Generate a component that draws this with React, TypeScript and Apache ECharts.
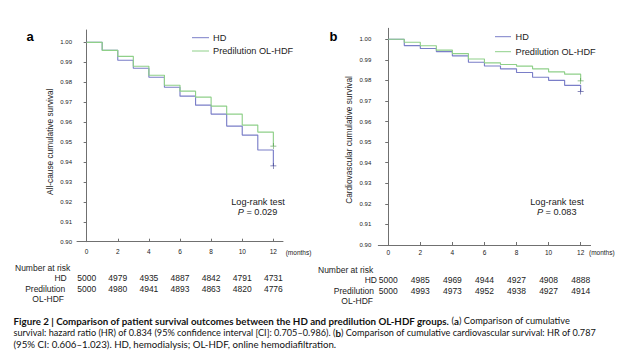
import React, { useEffect, useRef } from "react";
import * as echarts from "echarts";

// ---------- data ----------
const months = [0, 1, 2, 3, 4, 5, 6, 7, 8, 9, 10, 11, 12];
// all-cause survival (panel a)
const hdAllCause = [1.0, 0.996, 0.991, 0.987, 0.9825, 0.9775, 0.973, 0.9685, 0.964, 0.958, 0.9535, 0.946, 0.938];
const hdfAllCause = [1.0, 0.996, 0.993, 0.988, 0.9835, 0.9785, 0.9755, 0.9725, 0.968, 0.964, 0.9585, 0.955, 0.948];
// cardiovascular survival (panel b)
const hdCardio = [1.0, 0.9969, 0.9955, 0.994, 0.9919, 0.9888, 0.987, 0.9856, 0.9838, 0.9815, 0.98, 0.9776, 0.9746];
const hdfCardio = [1.0, 0.9985, 0.9968, 0.9947, 0.993, 0.9904, 0.9885, 0.9877, 0.9869, 0.9856, 0.9841, 0.983, 0.9797];

const yTicks = [0.9, 0.91, 0.92, 0.93, 0.94, 0.95, 0.96, 0.97, 0.98, 0.99, 1.0];
const xTicks = [0, 2, 4, 6, 8, 10, 12];

const riskMonths = [0, 2, 4, 6, 8, 10, 12];
const riskHdA = [5000, 4979, 4935, 4887, 4842, 4791, 4731];
const riskHdfA = [5000, 4980, 4941, 4893, 4863, 4820, 4776];
const riskHdB = [5000, 4985, 4969, 4944, 4927, 4908, 4888];
const riskHdfB = [5000, 4993, 4973, 4952, 4938, 4927, 4914];

const seriesNames = ["HD", "Predilution OL-HDF"];
const pValues = ["0.029", "0.083"];

// ---------- styles ----------
const HD_COLOR = "#7a7ec8";
const HDF_COLOR = "#8fd089";
const HD_MARK = "#3c3d8c";
const HDF_MARK = "#4f9a48";
const AXIS_COLOR = "#707070";
const TEXT = "#222";
const FONT = "Liberation Sans";
const CAP_FONT = "Lato";
const PLUS = "path://M0,4.4H10V5.6H0Z M4.4,0H5.6V10H4.4Z";

export default function App() {
  const ref = useRef<HTMLDivElement>(null);

  useEffect(() => {
    if (!ref.current) return;
    const chart = echarts.init(ref.current, null, { renderer: "svg" });

    const pairs = (vals: number[]) => vals.map((v, i) => [months[i], v]);

    const makeX = (gridIndex: number, margin: number) => ({
      type: "value",
      gridIndex,
      min: -0.62,
      max: 12.62,
      axisLine: { show: true, onZero: false, lineStyle: { color: AXIS_COLOR, width: 1 } },
      axisTick: { show: true, inside: true, length: 3, customValues: xTicks, lineStyle: { color: AXIS_COLOR } },
      axisLabel: { customValues: xTicks, fontSize: 6.5, color: TEXT, fontFamily: FONT, margin },
      splitLine: { show: false },
    });
    const makeY = (gridIndex: number, max: number, margin: number) => ({
      type: "value",
      gridIndex,
      min: 0.9,
      max,
      axisLine: { show: true, lineStyle: { color: AXIS_COLOR, width: 1 } },
      axisTick: { show: true, length: 3, customValues: yTicks, lineStyle: { color: AXIS_COLOR } },
      axisLabel: {
        customValues: yTicks,
        formatter: (v: number) => v.toFixed(2),
        fontSize: 6,
        color: TEXT,
        fontFamily: FONT,
        margin,
      },
      splitLine: { show: false },
    });

    const lineSeries = (name: string, vals: number[], color: string, idx: number) => ({
      type: "line",
      name,
      xAxisIndex: idx,
      yAxisIndex: idx,
      data: pairs(vals),
      step: "end",
      symbol: "none",
      lineStyle: { color, width: 1.15 },
      z: 3,
    });
    const censor = (name: string, vals: number[], color: string, idx: number) => ({
      type: "scatter",
      name,
      xAxisIndex: idx,
      yAxisIndex: idx,
      data: [[months[months.length - 1], vals[vals.length - 1]]],
      symbol: PLUS,
      symbolSize: 6,
      itemStyle: { color },
      z: 4,
    });

    chart.setOption({
      animation: false,
      grid: [
        { left: 77, top: 30, width: 206, height: 211.7 },
        { left: 378.3, top: 28.3, width: 212.3, height: 216.7 },
      ],
      xAxis: [makeX(0, 6), makeX(1, 3.5)],
      yAxis: [makeY(0, 1.0062, 5), makeY(1, 1.0053, 7)],
      series: [
        lineSeries(seriesNames[0], hdAllCause, HD_COLOR, 0),
        lineSeries(seriesNames[1], hdfAllCause, HDF_COLOR, 0),
        lineSeries(seriesNames[0], hdCardio, HD_COLOR, 1),
        lineSeries(seriesNames[1], hdfCardio, HDF_COLOR, 1),
        censor(seriesNames[0], hdAllCause, HD_MARK, 0),
        censor(seriesNames[1], hdfAllCause, HDF_MARK, 0),
        censor(seriesNames[0], hdCardio, HD_MARK, 1),
        censor(seriesNames[1], hdfCardio, HDF_MARK, 1),
      ],
    });

    const txt = (text: string, x: number, y: number, opts: any = {}) => ({
      type: "text",
      x,
      y,
      rotation: opts.rotation || 0,
      style: {
        text,
        fontSize: opts.fontSize || 8.5,
        fontFamily: opts.fontFamily || FONT,
        fontWeight: opts.fontWeight || "normal",
        fill: opts.fill || TEXT,
        align: opts.align || "left",
        verticalAlign: "middle",
        rich: opts.rich,
      },
      z: 10,
    });
    const seg = (x1: number, x2: number, y: number, color: string) => ({
      type: "line",
      shape: { x1, y1: y, x2, y2: y },
      style: { stroke: color, lineWidth: 1 },
      z: 10,
    });

    const g: any[] = [];
    // panel letters
    g.push(txt("a", 30, 36, { fontSize: 13, fontWeight: "bold", align: "center", fill: "#000" }));
    g.push(txt("b", 333.5, 36, { fontSize: 13, fontWeight: "bold", align: "center", fill: "#000" }));
    // legends
    g.push(seg(192, 209, 37.7, HD_COLOR), txt(seriesNames[0], 213, 38, { fontSize: 9.2 }));
    g.push(seg(192, 209, 51, HDF_COLOR), txt(seriesNames[1], 213, 51.3, { fontSize: 9.2 }));
    g.push(seg(495, 511, 36.7, HD_COLOR), txt(seriesNames[0], 515.5, 37, { fontSize: 9.2 }));
    g.push(seg(495, 511, 51.7, HDF_COLOR), txt(seriesNames[1], 515.5, 52, { fontSize: 9.2 }));
    // y titles
    g.push(txt("All-cause cumulative survival", 50, 141.7, { fontSize: 8.3, align: "center", rotation: Math.PI / 2 }));
    g.push(txt("Cardiovascular cumulative survival", 348.5, 140, { fontSize: 8.3, align: "center", rotation: Math.PI / 2 }));
    // log-rank
    const pRich = {
      i: { fontStyle: "italic", fontSize: 9.2, fontFamily: FONT, fill: TEXT },
      n: { fontSize: 9.2, fontFamily: FONT, fill: TEXT },
    };
    g.push(txt("Log-rank test", 258, 202, { fontSize: 9.2, align: "center" }));
    g.push(txt(`{i|P}{n| = ${pValues[0]}}`, 257.5, 212.3, { fontSize: 9.2, align: "center", rich: pRich }));
    g.push(txt("Log-rank test", 557, 201.5, { fontSize: 9.2, align: "center" }));
    g.push(txt(`{i|P}{n| = ${pValues[1]}}`, 556.7, 212, { fontSize: 9.2, align: "center", rich: pRich }));
    // (months)
    g.push(txt("(months)", 285.7, 252.7, { fontSize: 6.5 }));
    g.push(txt("(months)", 589, 252.7, { fontSize: 6.5 }));

    // number at risk tables
    g.push(txt("Number at risk", 15, 268.3));
    g.push(txt("HD", 66.7, 278.3, { align: "right" }));
    g.push(txt("Predilution", 65.3, 289.3, { align: "right" }));
    g.push(txt("OL-HDF", 64, 299.3, { align: "right" }));
    g.push(txt("Number at risk", 318, 270));
    g.push(txt("HD", 377, 279.5, { align: "right" }));
    g.push(txt("Predilution", 374, 291, { align: "right" }));
    g.push(txt("OL-HDF", 373, 301, { align: "right" }));
    riskMonths.forEach((m, i) => {
      const xa = chart.convertToPixel({ xAxisIndex: 0 }, m) as number;
      const xb = chart.convertToPixel({ xAxisIndex: 1 }, m) as number;
      g.push(txt(String(riskHdA[i]), xa, 278.3, { align: "center" }));
      g.push(txt(String(riskHdfA[i]), xa, 289.3, { align: "center" }));
      g.push(txt(String(riskHdB[i]), xb, 279.5, { align: "center" }));
      g.push(txt(String(riskHdfB[i]), xb, 291, { align: "center" }));
    });

    // caption
    const capBold = 9.75;
    const capRich = (size: number) => ({
      b: { fontWeight: "bold", fontSize: capBold, fontFamily: CAP_FONT, fill: "#111" },
      n: { fontSize: size, fontFamily: CAP_FONT, fill: "#111" },
    });
    g.push(
      txt(
        "{b|Figure 2 | Comparison of patient survival outcomes between the HD and predilution OL-HDF groups.}{n| (}{b|a}{n|) Comparison of cumulative}",
        13.5,
        320.7,
        { rich: capRich(9.25), fontFamily: CAP_FONT, fontSize: 9.25 }
      )
    );
    g.push(
      txt(
        "{n|survival: hazard ratio (HR) of 0.834 (95% confidence interval [CI]: 0.705–0.986). (}{b|b}{n|) Comparison of cumulative cardiovascular survival: HR of 0.787}",
        13.5,
        332.5,
        { rich: capRich(9.15), fontFamily: CAP_FONT, fontSize: 9.15 }
      )
    );
    g.push(
      txt("(95% CI: 0.606–1.023). HD, hemodialysis; OL-HDF, online hemodiafiltration.", 13.5, 343.7, {
        fontFamily: CAP_FONT,
        fontSize: 9.7,
        fill: "#111",
      })
    );

    chart.setOption({ graphic: g });

    return () => chart.dispose();
  }, []);

  return (
    <div
      ref={ref}
      style={{ position: "absolute", left: 0, top: 0, width: 633, height: 351, background: "#fff" }}
    />
  );
}
